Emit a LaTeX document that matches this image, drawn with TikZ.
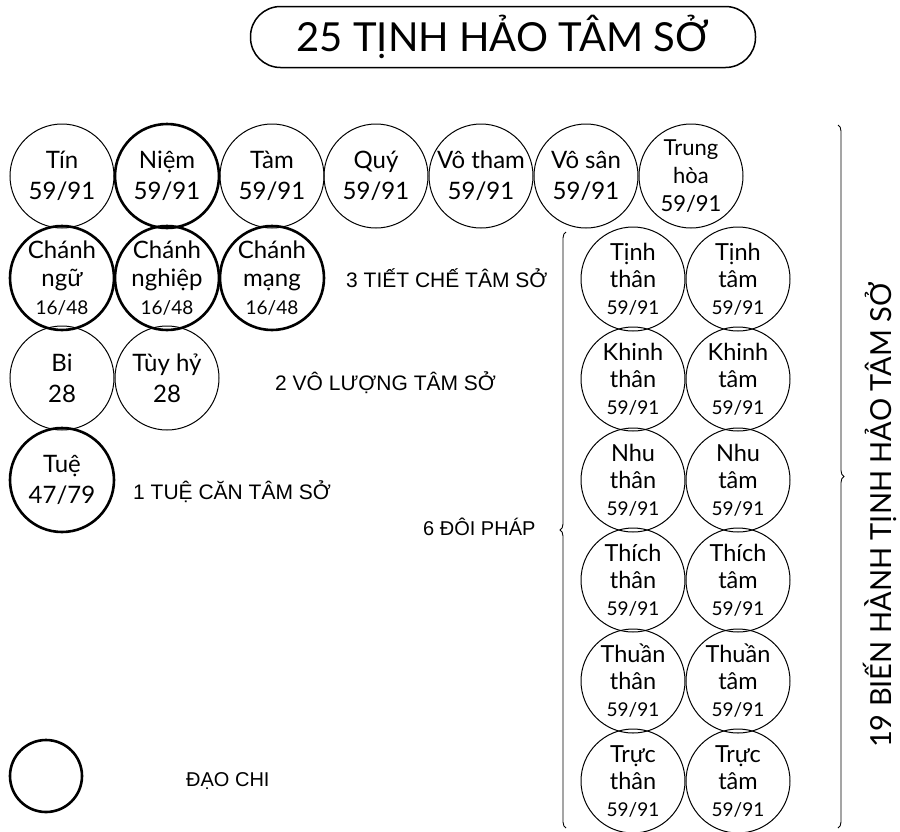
\documentclass[tikz,border=0pt]{standalone}
\usepackage{fontspec}
\setmainfont{Lato}
\newfontfamily\labfont{Liberation Sans}
\usetikzlibrary{decorations.pathreplacing}
\newcommand\smallnum[1]{{\fontsize{19}{22}\selectfont #1}}
\begin{document}
\begin{tikzpicture}[x=1pt,y=-1pt,
  circ/.style={circle,draw,line width=1pt,minimum size=104pt,inner sep=0pt,align=center,
    font=\fontsize{24}{31}\selectfont},
  boldcirc/.style={circ,line width=2.6pt},
  tri/.style={font=\fontsize{24}{28}\selectfont},
  pair/.style={font=\fontsize{23.5}{27}\selectfont},
  lbl/.style={font=\labfont\fontsize{21}{24}\selectfont,anchor=west,inner sep=0pt},
  bracestyle/.style={decorate,decoration={brace,amplitude=6pt},line width=0.9pt}]
\useasboundingbox (0,0) rectangle (900,831);
% title
\node[draw,line width=1.5pt,rounded corners=30pt,minimum width=505pt,minimum height=61pt,
  font=\fontsize{40}{44}\selectfont] (title) at (503,37) {25 TỊNH HẢO TÂM SỞ};
% row 1
\node[circ] (tin) at (62,176) {Tín\\59/91};
\node[boldcirc] (niem) at (167,176) {Niệm\\59/91};
\node[circ] (tam) at (272,176) {Tàm\\59/91};
\node[circ] (quy) at (376,176) {Quý\\59/91};
\node[circ] (votham) at (481,176) {Vô tham\\59/91};
\node[circ] (vosan) at (586,176) {Vô sân\\59/91};
\node[circ,font=\fontsize{22}{28}\selectfont] (trunghoa) at (691,176) {Trung\\hòa\\59/91};
% row 2
\node[boldcirc,tri] (cngu) at (62,278) {Chánh\\ngữ\\\smallnum{16/48}};
\node[boldcirc,tri] (cnghiep) at (167,278) {Chánh\\nghiệp\\\smallnum{16/48}};
\node[boldcirc,tri] (cmang) at (272,278) {Chánh\\mạng\\\smallnum{16/48}};
\node[lbl] (l3) at (346,278) {3 TIẾT CHẾ TÂM SỞ};
% row 3
\node[circ] (bi) at (62,378) {Bi\\28};
\node[circ] (tuyhy) at (167,378) {Tùy hỷ\\28};
\node[lbl] (l2) at (275,383) {2 VÔ LƯỢNG TÂM SỞ};
% row 4
\node[boldcirc] (tue) at (62,480) {Tuệ\\47/79};
\node[lbl] (l1) at (133,492) {1 TUỆ CĂN TÂM SỞ};
% pairs
\node[circ,pair] (tinhthan) at (633,279) {Tịnh\\thân\\\smallnum{59/91}};
\node[circ,pair] (tinhtam) at (738,279) {Tịnh\\tâm\\\smallnum{59/91}};
\node[circ,pair] (khinhthan) at (633,379) {Khinh\\thân\\\smallnum{59/91}};
\node[circ,pair] (khinhtam) at (738,379) {Khinh\\tâm\\\smallnum{59/91}};
\node[circ,pair] (nhuthan) at (633,480) {Nhu\\thân\\\smallnum{59/91}};
\node[circ,pair] (nhutam) at (738,480) {Nhu\\tâm\\\smallnum{59/91}};
\node[circ,pair] (thichthan) at (633,580) {Thích\\thân\\\smallnum{59/91}};
\node[circ,pair] (thichtam) at (738,580) {Thích\\tâm\\\smallnum{59/91}};
\node[circ,pair] (thuanthan) at (633,681) {Thuần\\thân\\\smallnum{59/91}};
\node[circ,pair] (thuantam) at (738,681) {Thuần\\tâm\\\smallnum{59/91}};
\node[circ,pair] (tructhan) at (633,781) {Trực\\thân\\\smallnum{59/91}};
\node[circ,pair] (tructam) at (738,781) {Trực\\tâm\\\smallnum{59/91}};
% left brace
\coordinate (lbB) at (566,828);
\coordinate (lbT) at (566,232);
\draw[bracestyle] (lbB) -- (lbT);
\node[lbl,font=\labfont\fontsize{20}{24}\selectfont] (l6) at (423,527) {6 ĐÔI PHÁP};
% right brace
\coordinate (rbT) at (838,125);
\coordinate (rbB) at (838,828);
\draw[bracestyle] (rbT) -- (rbB);
\node[rotate=90,font=\fontsize{29}{32}\selectfont,inner sep=0pt] (l19) at (880,515) {19 BIẾN HÀNH TỊNH HẢO TÂM SỞ};
% legend
\node[circle,draw,line width=2.6pt,minimum size=72pt,inner sep=0pt] (dao) at (46,776) {};
\node[lbl,font=\labfont\fontsize{20}{24}\selectfont] (ldao) at (186,781) {ĐẠO CHI};
\end{tikzpicture}
\end{document}
